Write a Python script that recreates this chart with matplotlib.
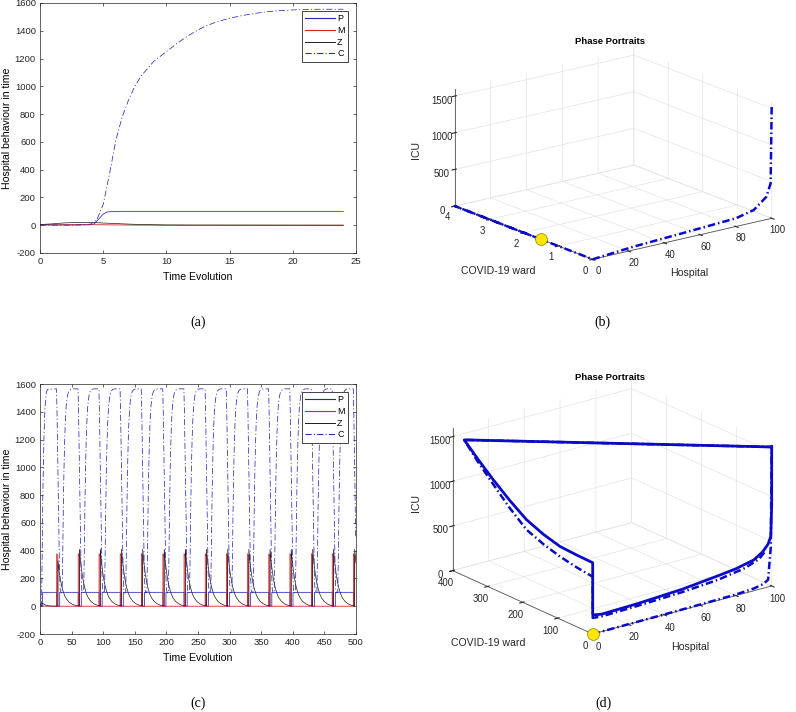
import numpy as np
import matplotlib
matplotlib.use('Agg')
import matplotlib.pyplot as plt
from mpl_toolkits.mplot3d import proj3d

FIG_W, FIG_H = 796, 712

# ---- (a) short run ----
a_t_P = [0, 1, 2, 3, 4, 4.3, 4.6, 5.0, 5.3, 5.7, 6.5, 24]
a_P = [5, 3, 2, 2, 3, 10, 40, 80, 95, 99, 100, 100]
a_t_M = [0, 1, 2, 3, 4, 5, 6, 8, 10, 24]
a_M = [1.5, 2.5, 3.3, 3.8, 4.0, 3.2, 2.2, 0.8, 0.3, 0]
a_t_Z = [0, 1, 2, 3, 4, 5, 6, 7, 8, 10, 12, 24]
a_Z = [5, 10, 17, 20, 20, 16, 12, 8, 5, 2, 1, 0]
a_t_C = [0, 2, 3, 4, 4.5, 5, 5.5, 6, 6.5, 7, 7.5, 8, 9, 10, 11, 12, 13, 14, 15,
         16, 17, 18, 19, 20, 22, 24]
a_C = [0, 0, 2, 8, 40, 150, 370, 610, 780, 900, 1000, 1075, 1180, 1250, 1320,
       1380, 1430, 1465, 1490, 1510, 1525, 1538, 1545, 1550, 1555, 1555]

# ---- (c) long run: start of the run, then one pulse shape repeated at the pulse times ----
c_spikes = [26.4, 60.5, 93.5, 127.0, 160.5, 194.5, 228.0, 261.5, 295.0, 328.5,
            362.0, 395.5, 429.5, 462.5, 496.0]
c_Z_scale = [0.8, 1, 1, 1, 1, 1, 1, 1, 1, 1, 1, 1, 1, 1, 1]

c_t0_P = [0, 1, 2, 3, 4.0, 4.3]
c_P0 = [15, 8, 5, 3, 3, 100]
c_t0_M = [0, 2, 4, 10]
c_M0 = [1, 3, 2, 0]
c_t0_Z = [0, 2, 4, 6, 8, 12, 18, 26.3]
c_Z0 = [10, 18, 20, 15, 10, 4, 1, 0.5]
c_t0_C = [0, 2, 2.7, 3.5, 4.5, 5.5, 6.5, 7.5, 8.5, 10, 12]
c_C0 = [0, 2, 90, 420, 800, 1060, 1250, 1380, 1470, 1540, 1562]

pulse_dt_P = [0, 0.01, 4.8, 4.81]
pulse_P = [100, 0, 0, 100]
pulse_dt_M = [-0.01, 0, 1.8, 1.81]
pulse_M = [0, 378, 362, 0]
pulse_dt_Z = [1.9, 2.0, 3, 4, 6, 8, 10, 13, 16, 20, 25, 30]
pulse_Z = [3, 410, 358, 310, 237, 180, 137, 90, 60, 35, 17, 7]
pulse_dt_C = [-0.3, 0.5, 1.5, 2.5, 3.5, 4.5, 5.5, 7, 8.6, 9.5, 10.5, 11.5, 12.5,
              13.5, 15, 17, 19, 22, 25]
pulse_C = [1565, 1400, 1100, 800, 500, 250, 120, 95, 100, 350, 700, 980, 1170,
           1310, 1440, 1515, 1548, 1562, 1565]

# ---- (b) phase portrait, short run: (Hospital, COVID-19 ward, ICU) ----
b_P = [0, 0, 0, 23, 50, 80, 90, 97, 99.4, 100]
b_W = [1.5, 4, 0, 0, 0, 0, 0, 0, 0, 0]
b_C = [0, 0, 0, 45, 75, 112, 169, 310, 480, 1540]

# ---- (d) phase portrait, long run ----
# first pass (shows as dash-dot)
d1_P = [0, 20, 40, 60, 80, 90, 95, 98, 99.5, 100,
        0, 0, 0, 0, 0, 0, 0, 0, 0, 0,
        5, 25, 50, 70, 85, 93, 97]
d1_W = [0, 0, 0, 0, 0, 0, 0, 0, 0, 0,
        367, 330, 293, 240, 189, 140, 93, 46, 0, 0,
        0, 0, 0, 0, 0, 0, 0]
d1_C = [0, 2, 4, 7, 12, 25, 45, 80, 440, 1556,
        1522, 1355, 1207, 1000, 832, 755, 701, 665, 641, 180,
        170, 180, 200, 230, 280, 340, 420]
# settled cycle (many passes on top of each other)
d2_P = [100, 0, 0, 0, 0, 0, 0, 0, 0, 0, 0, 5, 25, 50, 70, 80, 90, 95, 98, 99.5, 100, 100]
d2_W = [0, 367, 325, 284, 237, 189, 140, 93, 46, 0, 0, 0, 0, 0, 0, 0, 0, 0, 0, 0, 0, 0]
d2_C = [1556, 1522, 1365, 1223, 1075, 944, 865, 814, 803, 798, 213, 195, 205, 232,
        275, 300, 345, 410, 480, 560, 900, 1556]

plt.rcParams['font.family'] = 'Liberation Sans'
plt.rcParams['axes.unicode_minus'] = False
plt.rcParams['grid.color'] = '#e4e4e4'
plt.rcParams['grid.linewidth'] = 0.5
for k in ('xtick.color', 'ytick.color', 'axes.edgecolor'):
    plt.rcParams[k] = '#262626'

COL_P = '#2424c0'
COL_M = '#d42424'
COL_Z = '#1c1c1c'
COL_C = '#2c2cb0'
DASHDOT = (0, (8, 3, 1.5, 3))
BLUE3D = '#0a0ac8'
DASHDOT3D = (0, (3.0, 1.2, 0.6, 1.2))

fig = plt.figure(figsize=(FIG_W / 100, FIG_H / 100), dpi=100)


def px_rect(x0, y0, x1, y1):
    return [x0 / FIG_W, 1 - y1 / FIG_H, (x1 - x0) / FIG_W, (y1 - y0) / FIG_H]


def fig_text(x, y, s, **kw):
    fig.text(x / FIG_W, 1 - y / FIG_H, s, ha='center', va='center', **kw)


def build_run(t0, v0, dts, vals, scales=None):
    t, v = list(t0), list(v0)
    for i, s in enumerate(c_spikes):
        k = 1 if scales is None else scales[i]
        for d, val in zip(dts, vals):
            if s + d <= 500:
                t.append(s + d)
                v.append(val * k)
    return t, v


def time_panel(rect, series, xmax, xticks):
    ax = fig.add_axes(rect)
    (tp, p), (tm, m), (tz, z), (tc, c) = series
    ax.plot(tp, p, color=COL_P, lw=0.55)
    ax.plot(tm, m, color=COL_M, lw=0.6)
    ax.plot(tz, z, color=COL_Z, lw=0.5)
    ax.plot(tc, c, color=COL_C, lw=0.55, ls=DASHDOT)
    ax.set_xlim(0, xmax)
    ax.set_ylim(-200, 1600)
    ax.set_xticks(xticks)
    ax.set_yticks(range(-200, 1601, 200))
    ax.tick_params(direction='in', length=2.5, width=0.5, top=True, right=True,
                   labelsize=6.8, pad=3)
    for sp in ax.spines.values():
        sp.set_linewidth(0.5)
    ax.set_xlabel('Time Evolution', fontsize=7.6)
    ax.set_ylabel('Hospital behaviour in time', fontsize=7.6)
    ax.xaxis.set_label_coords(0.5, -0.096)
    ax.xaxis.label.set_va('center')
    ax.yaxis.set_label_coords(-0.105, 0.5)
    ax.yaxis.label.set_va('center')
    # legend keys drawn as fresh lines so they keep their own colours
    keys = [plt.Line2D([], [], color=COL_P, lw=0.8),
            plt.Line2D([], [], color=COL_M, lw=0.8),
            plt.Line2D([], [], color=COL_Z, lw=0.7),
            plt.Line2D([], [], color=COL_C, lw=0.8, ls=(0, (5.5, 2, 1, 2)))]
    leg = ax.legend(keys, ['P', 'M', 'Z', 'C'], loc='upper right', fontsize=6.5,
                    fancybox=False, framealpha=1, edgecolor='#262626',
                    borderaxespad=0.9, borderpad=0.35, labelspacing=0.3,
                    handlelength=3.3, handletextpad=0.3)
    leg.get_frame().set_linewidth(0.6)
    leg.set_zorder(10)
    return ax


def phase_axes(center, elev, aspect, ylim, yticks):
    side = 320
    ax = fig.add_axes(px_rect(center[0] - side / 2, center[1] - side / 2,
                              center[0] + side / 2, center[1] + side / 2),
                      projection='3d')
    ax.set_proj_type('ortho')
    ax.view_init(elev=elev, azim=-127.6)
    ax.set_xlim(0, 100)
    ax.set_ylim(*ylim)
    ax.set_zlim(0, 1600)
    ax.set_xticks(range(0, 101, 20))
    ax.set_yticks(yticks)
    ax.set_zticks([0, 500, 1000, 1500])
    ax.set_box_aspect(aspect)
    ax.patch.set_facecolor('none')
    for axis in (ax.xaxis, ax.yaxis, ax.zaxis):
        axis.set_pane_color((1, 1, 1, 0))
        axis.pane.set_edgecolor('#e4e4e4')
        axis.line.set_color('#555555')
        axis.line.set_linewidth(0.6)
    ax.tick_params(labelsize=6.9, pad=-3, colors='#262626')
    ax.computed_zorder = False
    return ax


def fit_box(ax, front, right):
    """Shift and scale a 3-D axes so the front and right floor corners land on given pixels."""
    fig.canvas.draw()
    (x0, x1), (y0, _), (z0, _) = ax.get_xlim(), ax.get_ylim(), ax.get_zlim()
    M = ax.get_proj()

    def to_px(x, y, z):
        u, v, _ = proj3d.proj_transform(x, y, z, M)
        X, Y = ax.transData.transform((u, v))
        return np.array([X, FIG_H - Y])

    f = to_px(x0, y0, z0)
    r = to_px(x1, y0, z0)
    s = np.hypot(*np.subtract(right, front)) / np.hypot(*(r - f))
    bb = ax.get_position()
    cx = (bb.x0 + bb.width / 2) * FIG_W
    cy = (1 - bb.y0 - bb.height / 2) * FIG_H
    ncx = front[0] - s * (f[0] - cx)
    ncy = front[1] - s * (f[1] - cy)
    half = bb.width * FIG_W * s / 2
    ax.set_position(px_rect(ncx - half, ncy - half, ncx + half, ncy + half))


# (b)
ax_b = phase_axes((613, 153), 17.3, (1, 1, 0.544), (0, 4), range(0, 5))
ax_b.plot(b_P, b_W, b_C, color=BLUE3D, lw=1.8, ls=DASHDOT3D)
ax_b.plot(b_P[:1], b_W[:1], b_C[:1], 'o', ms=8.5, mfc='#ffe600', mec='#9a9400', mew=0.6)
fit_box(ax_b, (592.7, 259.3), (771.7, 218.3))

# (d)
ax_d = phase_axes((612, 507), 20.4, (1, 1.016, 0.675), (0, 400), range(0, 401, 100))
ax_d.plot(d1_P, d1_W, d1_C, color=BLUE3D, lw=1.8, ls=DASHDOT3D)
ax_d.plot(d2_P, d2_W, d2_C, color=BLUE3D, lw=2.0)
ax_d.plot(d1_P[:1], d1_W[:1], d1_C[:1], 'o', ms=8.5, mfc='#ffe600', mec='#9a9400', mew=0.6)
fit_box(ax_d, (592.7, 634.0), (771.7, 586.0))

# (a)
time_panel(px_rect(40, 3, 356, 253),
           [(a_t_P, a_P), (a_t_M, a_M), (a_t_Z, a_Z), (a_t_C, a_C)],
           25, range(0, 26, 5))

# (c)
c_series = [build_run(c_t0_P, c_P0, pulse_dt_P, pulse_P),
            build_run(c_t0_M, c_M0, pulse_dt_M, pulse_M),
            build_run(c_t0_Z, c_Z0, pulse_dt_Z, pulse_Z, c_Z_scale),
            build_run(c_t0_C, c_C0, pulse_dt_C, pulse_C)]
time_panel(px_rect(40, 384, 356, 634), c_series, 500, range(0, 501, 50))

# axis names and titles of the phase portraits
lab = dict(fontsize=7.6, color='#262626')
fig_text(416, 150, 'ICU', rotation=90, **lab)
fig_text(498, 271, 'COVID-19 ward', **lab)
fig_text(689, 273, 'Hospital', **lab)
fig_text(610, 42, 'Phase Portraits', fontsize=6.8, fontweight='bold')
fig_text(416, 503, 'ICU', rotation=90, **lab)
fig_text(488, 643, 'COVID-19 ward', **lab)
fig_text(690, 647, 'Hospital', **lab)
fig_text(610, 377, 'Phase Portraits', fontsize=6.8, fontweight='bold')

# sub-figure captions
cap = dict(fontsize=10, family='Liberation Serif')
fig_text(198, 322, '(a)', **cap)
fig_text(602, 322, '(b)', **cap)
fig_text(198, 703, '(c)', **cap)
fig_text(604, 703, '(d)', **cap)

fig.savefig('out.png', dpi=100)
